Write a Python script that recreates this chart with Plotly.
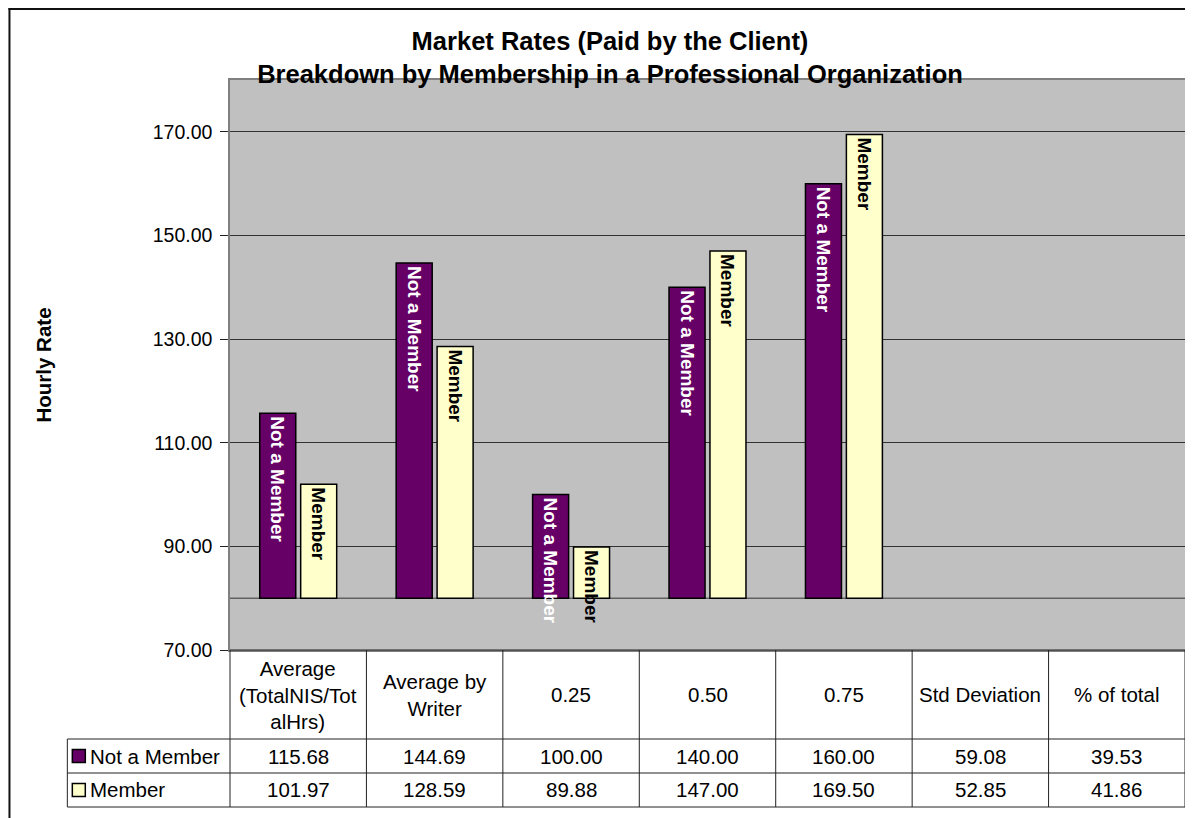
import plotly.graph_objects as go

categories = ["Average (TotalNIS/TotalHrs)", "Average by Writer", "0.25", "0.50", "0.75",
              "Std Deviation", "% of total"]
header_labels = ["Average<br>(TotalNIS/Tot<br>alHrs)", "Average by<br>Writer", "0.25", "0.50", "0.75",
                 "Std Deviation", "% of total"]
not_member = [115.68, 144.69, 100.00, 140.00, 160.00, 59.08, 39.53]
member = [101.97, 128.59, 89.88, 147.00, 169.50, 52.85, 41.86]
series_names = ["Not a Member", "Member"]
series_colors = ["#660066", "#FFFFCC"]
label_colors = ["white", "black"]

y_ticks = [70, 90, 110, 130, 150, 170]
y_min, y_max, y_cross = 70, 180, 80

FONT = "Liberation Sans, Arial, sans-serif"
OFF = 8  # the page body adds an 8px margin, so work in figure pixels = screen pixels - 8
W, H = 1193 - OFF, 818 - OFF
L, R, T, B = 230 - OFF, 1187 - OFF, 80 - OFF, 650 - OFF


def px(x):
    # screen x -> paper x
    return (x - OFF - L) / (R - L)


def py(y):
    # screen y -> paper y
    return (B - (y - OFF)) / (B - T)


fig = go.Figure()
for name, vals, col, tcol in zip(series_names, [not_member, member], series_colors, label_colors):
    # bars hang from the category axis crossing (80); values below the axis min are not drawn
    lengths = [v - y_cross if v >= y_min else None for v in vals]
    fig.add_trace(go.Bar(
        x=categories, y=lengths, base=y_cross, name=name,
        marker=dict(color=col, line=dict(color="black", width=1.5)),
        text=[name if v is not None else "" for v in lengths],
        textposition="inside", insidetextanchor="end", textangle=90,
        constraintext="none",
        textfont=dict(color=tcol, size=19, family=FONT, weight="bold"),
        hoverinfo="skip",
    ))

# line where the category axis crosses
shapes = [dict(type="line", xref="paper", yref="y", x0=0, x1=1, y0=y_cross, y1=y_cross,
               line=dict(color="#333333", width=1), layer="below")]

# data table grid
line = dict(color="#222222", width=1)
hdr_bot, row1_bot, row2_bot, leg_left = 739, 773, 807, 67
shapes.append(dict(type="line", xref="paper", yref="paper", x0=0, x1=1, y0=0, y1=0, line=line))
for yy in (hdr_bot, row1_bot, row2_bot):
    shapes.append(dict(type="line", xref="paper", yref="paper", x0=px(leg_left), x1=1,
                       y0=py(yy), y1=py(yy), line=line))
for k in range(len(categories) + 1):
    shapes.append(dict(type="line", xref="paper", yref="paper", x0=k / len(categories),
                       x1=k / len(categories), y0=0, y1=py(row2_bot), line=line))
shapes.append(dict(type="line", xref="paper", yref="paper", x0=px(leg_left), x1=px(leg_left),
                   y0=py(hdr_bot), y1=py(row2_bot), line=line))

# outer chart border
shapes.append(dict(type="line", xref="paper", yref="paper", x0=px(8), x1=px(1200),
                   y0=py(9), y1=py(9), line=dict(color="#111111", width=2)))
shapes.append(dict(type="line", xref="paper", yref="paper", x0=px(9), x1=px(9),
                   y0=py(8), y1=py(825), line=dict(color="#111111", width=2)))

annotations = []
for i, lab in enumerate(header_labels):
    annotations.append(dict(x=i, xref="x", y=py((650 + hdr_bot) / 2), yref="paper",
                            text=lab, showarrow=False, font=dict(size=20.5, color="black"),
                            xanchor="center", yanchor="middle"))
row_centers = [(hdr_bot + row1_bot) / 2, (row1_bot + row2_bot) / 2]
for vals, yc in zip([not_member, member], row_centers):
    for i, v in enumerate(vals):
        annotations.append(dict(x=i, xref="x", y=py(yc), yref="paper", text=f"{v:.2f}",
                                showarrow=False, font=dict(size=20.5, color="black"),
                                xanchor="center", yanchor="middle"))

for name, col, yc in zip(series_names, series_colors, row_centers):
    shapes.append(dict(type="rect", xref="paper", yref="paper", x0=px(72), x1=px(85),
                       y0=py(yc - 6.5), y1=py(yc + 6.5), fillcolor=col,
                       line=dict(color="black", width=1.5)))
    annotations.append(dict(x=px(88), xref="paper", y=py(yc), yref="paper", text=name,
                            showarrow=False, font=dict(size=20.5, color="black"),
                            xanchor="left", yanchor="middle"))

fig.update_layout(
    width=W, height=H,
    margin=dict(l=L, r=W - R, t=T, b=H - B),
    paper_bgcolor="white", plot_bgcolor="#C0C0C0",
    font=dict(family=FONT, color="black"),
    showlegend=False,
    barmode="group", bargap=0.40, bargroupgap=0.12,
    title=dict(text="Market Rates (Paid by the Client)<br>Breakdown by Membership in a Professional Organization",
               x=(610 - OFF) / W, xanchor="center", y=1 - (50 - OFF) / H, yanchor="middle",
               font=dict(size=25.5, family=FONT, color="black", weight="bold")),
    shapes=shapes, annotations=annotations,
)
fig.update_xaxes(type="category", showticklabels=False, ticks="", showgrid=False,
                 showline=True, mirror=True, linecolor="#808080", linewidth=1.5,
                 range=[-0.5, len(categories) - 0.5])
fig.update_yaxes(range=[y_min, y_max], tickvals=y_ticks, tickformat=".2f",
                 ticks="outside", ticklen=8, tickcolor="#222222", ticklabelstandoff=4,
                 tickfont=dict(size=19.5, color="black"),
                 showgrid=True, gridcolor="#333333", gridwidth=1,
                 showline=True, mirror=True, linecolor="#808080", linewidth=1.5, zeroline=False,
                 title=dict(text="Hourly Rate", standoff=96,
                            font=dict(size=20.5, weight="bold", color="black")))

fig.write_html("out.html")
